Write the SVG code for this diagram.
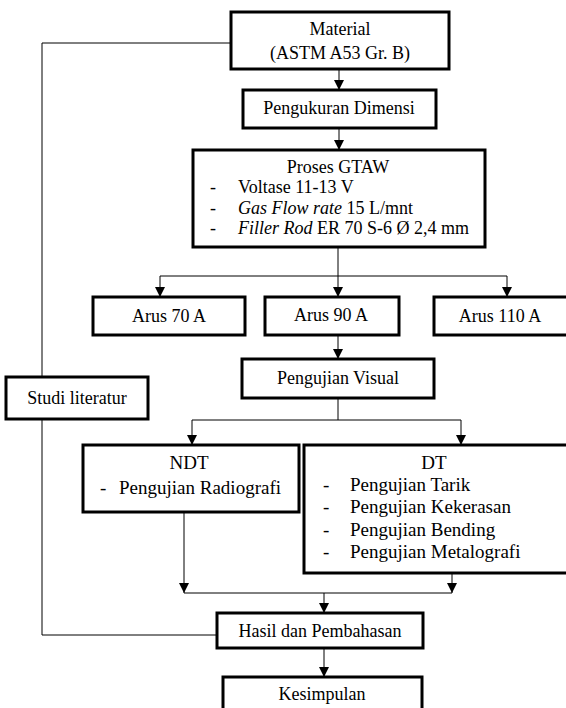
<svg xmlns="http://www.w3.org/2000/svg" width="566" height="708" viewBox="0 0 566 708">
<style>
.box{fill:#fff;stroke:#000;stroke-width:3}
.t{font-family:"Liberation Serif","Times New Roman",serif;font-size:18px;fill:#000}
.c{text-anchor:middle}
.big{font-size:19px}
.ln{fill:none;stroke:#000;stroke-width:1}
</style>
<defs>
<marker id="ah" markerUnits="userSpaceOnUse" markerWidth="10" markerHeight="10" viewBox="0 0 10 10" refX="10" refY="5" orient="auto">
<path d="M0,0 L10,5 L0,10 Z" fill="#000"/>
</marker>
</defs>
<g id="connectors">
<polyline class="ln" points="231,43 42,43 42,635 217,635"/>
<line class="ln" x1="339" y1="69" x2="339" y2="90" marker-end="url(#ah)"/>
<line class="ln" x1="339" y1="128" x2="339" y2="150" marker-end="url(#ah)"/>
<line class="ln" x1="338" y1="247" x2="338" y2="276"/>
<line class="ln" x1="160" y1="276" x2="507" y2="276"/>
<line class="ln" x1="160" y1="276" x2="160" y2="297" marker-end="url(#ah)"/>
<line class="ln" x1="338" y1="276" x2="338" y2="297" marker-end="url(#ah)"/>
<line class="ln" x1="507" y1="276" x2="507" y2="297" marker-end="url(#ah)"/>
<line class="ln" x1="338" y1="335" x2="338" y2="359" marker-end="url(#ah)"/>
<line class="ln" x1="338" y1="398" x2="338" y2="420"/>
<line class="ln" x1="192" y1="420" x2="461" y2="420"/>
<line class="ln" x1="192" y1="420" x2="192" y2="445" marker-end="url(#ah)"/>
<line class="ln" x1="461" y1="420" x2="461" y2="445" marker-end="url(#ah)"/>
<line class="ln" x1="184" y1="512" x2="184" y2="593" marker-end="url(#ah)"/>
<line class="ln" x1="452" y1="573" x2="452" y2="593" marker-end="url(#ah)"/>
<line class="ln" x1="184" y1="593" x2="452" y2="593"/>
<line class="ln" x1="324" y1="593" x2="324" y2="613" marker-end="url(#ah)"/>
<line class="ln" x1="324" y1="648" x2="324" y2="677" marker-end="url(#ah)"/>
</g>
<g id="material">
<rect class="box" x="231" y="12" width="218" height="57"/>
<text class="t c" x="340" y="35">Material</text>
<text class="t c" x="340" y="59">(ASTM A53 Gr. B)</text>
</g>
<g id="pengukuran">
<rect class="box" x="243" y="90" width="193" height="38"/>
<text class="t c" x="339" y="114">Pengukuran Dimensi</text>
</g>
<g id="proses">
<rect class="box" x="193" y="150" width="292" height="97"/>
<text class="t c" x="338" y="173">Proses GTAW</text>
<text class="t" x="210" y="193">-</text>
<text class="t" x="238" y="193">Voltase 11-13 V</text>
<text class="t" x="210" y="214">-</text>
<text class="t" x="238" y="214"><tspan font-style="italic">Gas Flow rate</tspan> 15 L/mnt</text>
<text class="t" x="210" y="234">-</text>
<text class="t" x="238" y="234"><tspan font-style="italic">Filler Rod</tspan> ER 70 S-6 Ø 2,4 mm</text>
</g>
<g id="arus70">
<rect class="box" x="93" y="297" width="152" height="38"/>
<text class="t c" x="169" y="322">Arus 70 A</text>
</g>
<g id="arus90">
<rect class="box" x="265" y="297" width="134" height="38"/>
<text class="t c" x="331" y="321">Arus 90 A</text>
</g>
<g id="arus110">
<rect class="box" x="434" y="297" width="140" height="38"/>
<text class="t c" x="500" y="322">Arus 110 A</text>
</g>
<g id="visual">
<rect class="box" x="242" y="359" width="192" height="39"/>
<text class="t c" x="338" y="384">Pengujian Visual</text>
</g>
<g id="studi">
<rect class="box" x="6" y="377" width="142" height="42"/>
<text class="t c" x="77" y="404">Studi literatur</text>
</g>
<g id="ndt">
<rect class="box" x="83" y="445" width="216" height="67"/>
<text class="t big c" x="189" y="469">NDT</text>
<text class="t big" x="100" y="494">-</text>
<text class="t big" x="119" y="494">Pengujian Radiografi</text>
</g>
<g id="dt">
<rect class="box" x="304" y="445" width="270" height="128"/>
<text class="t big c" x="434" y="469">DT</text>
<text class="t big" x="323" y="491">-</text>
<text class="t big" x="350" y="491">Pengujian Tarik</text>
<text class="t big" x="323" y="513">-</text>
<text class="t big" x="350" y="513">Pengujian Kekerasan</text>
<text class="t big" x="323" y="536">-</text>
<text class="t big" x="350" y="536">Pengujian Bending</text>
<text class="t big" x="323" y="558">-</text>
<text class="t big" x="350" y="558">Pengujian Metalografi</text>
</g>
<g id="hasil">
<rect class="box" x="217" y="613" width="206" height="35"/>
<text class="t c" x="320" y="637">Hasil dan Pembahasan</text>
</g>
<g id="kesimpulan">
<rect class="box" x="223" y="677" width="199" height="40"/>
<text class="t c" x="322" y="700">Kesimpulan</text>
</g>
</svg>
